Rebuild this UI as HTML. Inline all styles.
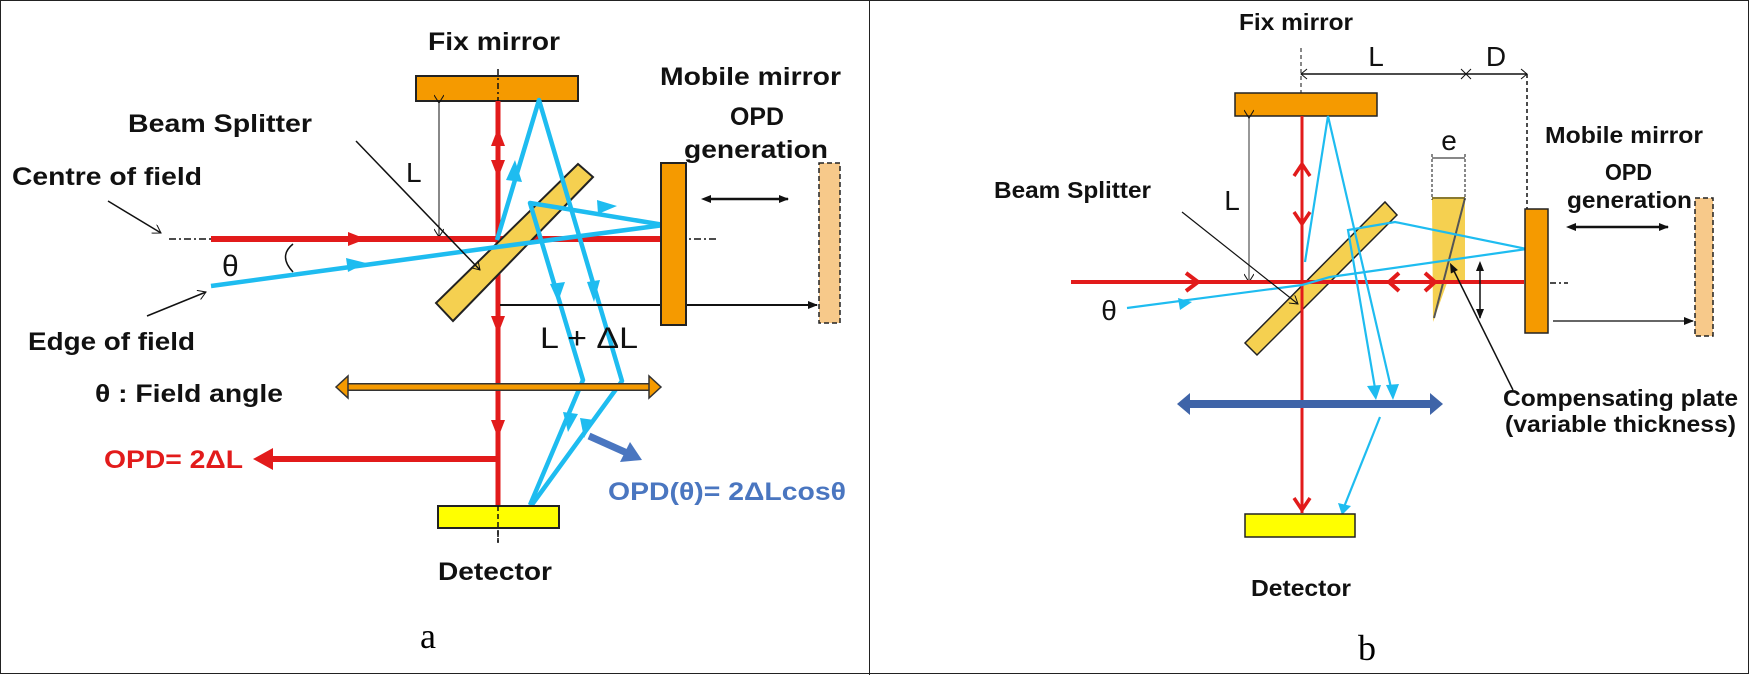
<!DOCTYPE html>
<html><head><meta charset="utf-8"><style>
html,body{margin:0;padding:0;background:#fff}
svg{display:block}
text{font-family:"Liberation Sans",Arial,sans-serif}
.b{font-weight:bold;fill:#111}
</style></head><body>
<svg width="1749" height="675" viewBox="0 0 1749 675" xmlns="http://www.w3.org/2000/svg">
<defs>
<marker id="ab" markerWidth="10" markerHeight="10" refX="9" refY="5" orient="auto" markerUnits="userSpaceOnUse"><path d="M0,1 L10,5 L0,9 z" fill="#111"/></marker>
<marker id="abs" markerWidth="10" markerHeight="10" refX="1" refY="5" orient="auto-start-reverse" markerUnits="userSpaceOnUse"><path d="M0,1 L10,5 L0,9 z" fill="#111"/></marker>
<marker id="ao" markerWidth="10" markerHeight="10" refX="9" refY="5" orient="auto" markerUnits="userSpaceOnUse"><path d="M1,0 L9,5 L1,10" fill="none" stroke="#111"/></marker>
</defs>
<rect x="0.5" y="0.5" width="1748" height="673" fill="#fff" stroke="#222"/>
<line x1="869.5" y1="0" x2="869.5" y2="675" stroke="#222"/>

<!-- ================= LEFT PANEL ================= -->
<text class="b" x="428" y="50" font-size="25" textLength="132" lengthAdjust="spacingAndGlyphs">Fix mirror</text>
<rect x="416" y="76" width="162" height="25" fill="#f59a00" stroke="#222" stroke-width="2"/>
<line x1="498" y1="69" x2="498" y2="545" stroke="#111" stroke-width="1.5" stroke-dasharray="6,3,2,3"/>
<line x1="169" y1="239" x2="717" y2="239" stroke="#111" stroke-width="1.5" stroke-dasharray="7,3,2,3"/>
<line x1="439" y1="103" x2="439" y2="237" stroke="#111" stroke-width="1" marker-start="url(#ao)" marker-end="url(#ao)"/>
<text x="406" y="182" font-size="28" fill="#111">L</text>
<line x1="211" y1="239" x2="661" y2="239" stroke="#e21b1b" stroke-width="6"/>
<polygon points="348,232 366,239 348,246" fill="#e21b1b"/>
<line x1="498" y1="101" x2="498" y2="508" stroke="#e21b1b" stroke-width="5"/>
<polygon points="491,146 498,128 505,146" fill="#e21b1b"/>
<polygon points="491,160 498,178 505,160" fill="#e21b1b"/>
<polygon points="491,316 498,334 505,316" fill="#e21b1b"/>
<polygon points="491,420 498,438 505,420" fill="#e21b1b"/>
<polygon points="436,303 453,321 593,177 578,164" fill="#f5d050" stroke="#222" stroke-width="2"/>
<g stroke="#1ebcf0" stroke-width="4.5" fill="none" stroke-linejoin="round">
<polyline points="211,286 497,247 664,225"/>
<polyline points="497,240 539,100 622,381 531,506"/>
<polyline points="664,225 561,208 530,203 583,380 530,505"/>
</g>
<g fill="#1ebcf0">
<polygon points="346,258 366,263 348,272"/>
<polygon points="597,200 617,206 598,214"/>
<polygon points="506,180 515,160 522,182"/>
<polygon points="550,284 558,302 565,282"/>
<polygon points="587,282 594,302 600,280"/>
<polygon points="563,412 568,432 578,414"/>
<polygon points="580,418 584,438 594,420"/>
</g>
<line x1="500" y1="305" x2="817" y2="305" stroke="#111" stroke-width="2" marker-end="url(#ab)"/>
<text x="540" y="348" font-size="30" fill="#111" textLength="98" lengthAdjust="spacingAndGlyphs">L + ΔL</text>
<rect x="661" y="163" width="25" height="162" fill="#f59a00" stroke="#222" stroke-width="2"/>
<rect x="819" y="163" width="21" height="160" fill="#f7c98a" stroke="#222" stroke-width="1.5" stroke-dasharray="5,3"/>
<line x1="710" y1="199" x2="788" y2="199" stroke="#111" stroke-width="2.5" marker-start="url(#abs)" marker-end="url(#ab)"/>
<text class="b" x="660" y="85" font-size="25" textLength="181" lengthAdjust="spacingAndGlyphs">Mobile mirror</text>
<text class="b" x="730" y="125" font-size="25" textLength="54" lengthAdjust="spacingAndGlyphs">OPD</text>
<text class="b" x="684" y="158" font-size="25" textLength="144" lengthAdjust="spacingAndGlyphs">generation</text>
<line x1="345" y1="387" x2="652" y2="387" stroke="#333" stroke-width="8"/>
<line x1="345" y1="387" x2="652" y2="387" stroke="#f59a00" stroke-width="5"/>
<polygon points="336,387 348,376 348,398" fill="#f59a00" stroke="#333" stroke-width="1.5"/>
<polygon points="661,387 649,376 649,398" fill="#f59a00" stroke="#333" stroke-width="1.5"/>
<line x1="498" y1="459" x2="268" y2="459" stroke="#e21b1b" stroke-width="6"/>
<polygon points="253,459 273,448 273,470" fill="#e21b1b"/>
<text x="104" y="468" font-size="25" font-weight="bold" fill="#e21b1b" textLength="139" lengthAdjust="spacingAndGlyphs">OPD= 2ΔL</text>
<line x1="589" y1="436" x2="627" y2="453" stroke="#4a76c0" stroke-width="7"/>
<polygon points="642,460 620,462 630,442" fill="#4a76c0"/>
<text x="608" y="500" font-size="25" font-weight="bold" fill="#4a76c0" textLength="238" lengthAdjust="spacingAndGlyphs">OPD(θ)= 2ΔLcosθ</text>
<rect x="438" y="506" width="121" height="22" fill="#ffff00" stroke="#222" stroke-width="2"/>
<line x1="498" y1="506" x2="498" y2="545" stroke="#111" stroke-width="1.5" stroke-dasharray="5,3"/>
<text class="b" x="438" y="580" font-size="25" textLength="114" lengthAdjust="spacingAndGlyphs">Detector</text>
<text x="428" y="648" font-size="36" text-anchor="middle" style="font-family:'Liberation Serif',serif">a</text>
<text class="b" x="128" y="132" font-size="25" textLength="184" lengthAdjust="spacingAndGlyphs">Beam Splitter</text>
<line x1="356" y1="141" x2="480" y2="270" stroke="#111" stroke-width="1.5" marker-end="url(#ao)"/>
<text class="b" x="12" y="185" font-size="25" textLength="190" lengthAdjust="spacingAndGlyphs">Centre of field</text>
<line x1="108" y1="201" x2="161" y2="233" stroke="#111" stroke-width="1.5" marker-end="url(#ao)"/>
<text x="222" y="276" font-size="30" fill="#111">θ</text>
<path d="M293,244 Q278,256 293,272" fill="none" stroke="#111" stroke-width="1.5"/>
<line x1="147" y1="316" x2="206" y2="292" stroke="#111" stroke-width="1.5" marker-end="url(#ao)"/>
<text class="b" x="28" y="350" font-size="25" textLength="167" lengthAdjust="spacingAndGlyphs">Edge of field</text>
<text class="b" x="95" y="402" font-size="25" textLength="188" lengthAdjust="spacingAndGlyphs">θ : Field angle</text>

<!-- ================= RIGHT PANEL ================= -->
<text class="b" x="1239" y="30" font-size="23" textLength="114" lengthAdjust="spacingAndGlyphs">Fix mirror</text>
<line x1="1301" y1="48" x2="1301" y2="93" stroke="#111" stroke-width="1" stroke-dasharray="4,3"/>
<line x1="1301" y1="74" x2="1527" y2="74" stroke="#111" stroke-width="1.5"/>
<path d="M1461,69 L1471,79 M1461,79 L1471,69" stroke="#111" stroke-width="1"/>
<path d="M1521,69 L1527,74 L1521,79" stroke="#111" fill="none"/>
<path d="M1307,69 L1301,74 L1307,79" stroke="#111" fill="none"/>
<text x="1376" y="66" font-size="28" fill="#111" text-anchor="middle">L</text>
<text x="1496" y="66" font-size="28" fill="#111" text-anchor="middle">D</text>
<line x1="1527" y1="74" x2="1527" y2="210" stroke="#111" stroke-width="1.5" stroke-dasharray="4,3"/>
<rect x="1235" y="93" width="142" height="23" fill="#f59a00" stroke="#222" stroke-width="1.5"/>
<line x1="1249" y1="118" x2="1249" y2="282" stroke="#777" stroke-width="1.5" marker-start="url(#ao)" marker-end="url(#ao)"/>
<text x="1232" y="210" font-size="28" fill="#111" text-anchor="middle">L</text>
<polygon points="1245,343 1257,355 1397,215 1385,202" fill="#f5d050" stroke="#222" stroke-width="1.5"/>
<polygon points="1432,198 1465,198 1465,283 1447,283 1433,322" fill="#f5d050"/>
<line x1="1432" y1="198" x2="1465" y2="198" stroke="#8a7a30" stroke-width="2"/>
<line x1="1465" y1="198" x2="1434" y2="318" stroke="#555" stroke-width="2"/>
<line x1="1432" y1="154" x2="1432" y2="200" stroke="#111" stroke-dasharray="3,2"/>
<line x1="1465" y1="154" x2="1465" y2="200" stroke="#111" stroke-dasharray="3,2"/>
<line x1="1432" y1="158" x2="1465" y2="158" stroke="#111"/>
<text x="1449" y="150" font-size="28" fill="#111" text-anchor="middle">e</text>
<line x1="1071" y1="282" x2="1524" y2="282" stroke="#e21b1b" stroke-width="4"/>
<path d="M1186,273 L1198,282 L1186,291" fill="none" stroke="#e21b1b" stroke-width="4"/>
<path d="M1399,273 L1389,282 L1399,291 M1425,273 L1435,282 L1425,291" fill="none" stroke="#e21b1b" stroke-width="4"/>
<line x1="1302" y1="116" x2="1302" y2="513" stroke="#e21b1b" stroke-width="3"/>
<path d="M1294,176 L1302,164 L1310,176 M1294,212 L1302,224 L1310,212 M1294,498 L1302,510 L1310,498" fill="none" stroke="#e21b1b" stroke-width="3.5"/>
<g stroke="#1ebcf0" stroke-width="2.2" fill="none">
<polyline points="1127,308 1302,285 1330,277 1527,249 1395,222 1348,230 1376,394"/>
<polyline points="1305,262 1328,116 1392,392"/>
<line x1="1380" y1="417" x2="1342" y2="512"/>
</g>
<g fill="#1ebcf0">
<polygon points="1178,298 1192,302 1180,310"/>
<polygon points="1367,386 1376,400 1381,385"/>
<polygon points="1386,385 1393,400 1399,384"/>
<polygon points="1338,503 1342,515 1351,506"/>
</g>
<line x1="1188" y1="404" x2="1432" y2="404" stroke="#3f64a8" stroke-width="8"/>
<polygon points="1177,404 1190,393 1190,415" fill="#3f64a8"/>
<polygon points="1443,404 1430,393 1430,415" fill="#3f64a8"/>
<line x1="1480" y1="270" x2="1480" y2="318" stroke="#111" stroke-width="1.5" marker-start="url(#abs)" marker-end="url(#ab)"/>
<line x1="1454" y1="271" x2="1513" y2="390" stroke="#111" stroke-width="1.5" marker-start="url(#abs)"/>
<rect x="1525" y="209" width="23" height="124" fill="#f59a00" stroke="#222" stroke-width="1.5"/>
<line x1="1550" y1="283" x2="1568" y2="283" stroke="#111" stroke-width="1.5" stroke-dasharray="6,3,2,3"/>
<rect x="1695" y="198" width="18" height="138" fill="#f7c98a" stroke="#222" stroke-width="1.5" stroke-dasharray="5,3"/>
<line x1="1575" y1="227" x2="1668" y2="227" stroke="#111" stroke-width="2.5" marker-start="url(#abs)" marker-end="url(#ab)"/>
<line x1="1553" y1="321" x2="1693" y2="321" stroke="#333" stroke-width="1.5" marker-end="url(#ab)"/>
<text class="b" x="1545" y="143" font-size="23" textLength="158" lengthAdjust="spacingAndGlyphs">Mobile mirror</text>
<text class="b" x="1605" y="180" font-size="23" textLength="47" lengthAdjust="spacingAndGlyphs">OPD</text>
<text class="b" x="1567" y="208" font-size="23" textLength="125" lengthAdjust="spacingAndGlyphs">generation</text>
<text class="b" x="1503" y="406" font-size="23" textLength="235" lengthAdjust="spacingAndGlyphs">Compensating plate</text>
<text class="b" x="1505" y="432" font-size="23" textLength="231" lengthAdjust="spacingAndGlyphs">(variable thickness)</text>
<rect x="1245" y="514" width="110" height="23" fill="#ffff00" stroke="#222" stroke-width="1.5"/>
<text class="b" x="1251" y="596" font-size="23" textLength="100" lengthAdjust="spacingAndGlyphs">Detector</text>
<text x="1367" y="660" font-size="36" text-anchor="middle" style="font-family:'Liberation Serif',serif">b</text>
<text class="b" x="994" y="198" font-size="23" textLength="157" lengthAdjust="spacingAndGlyphs">Beam Splitter</text>
<line x1="1182" y1="212" x2="1298" y2="304" stroke="#111" stroke-width="1.2" marker-end="url(#ao)"/>
<text x="1109" y="320" font-size="28" fill="#111" text-anchor="middle">θ</text>
</svg>
</body></html>
